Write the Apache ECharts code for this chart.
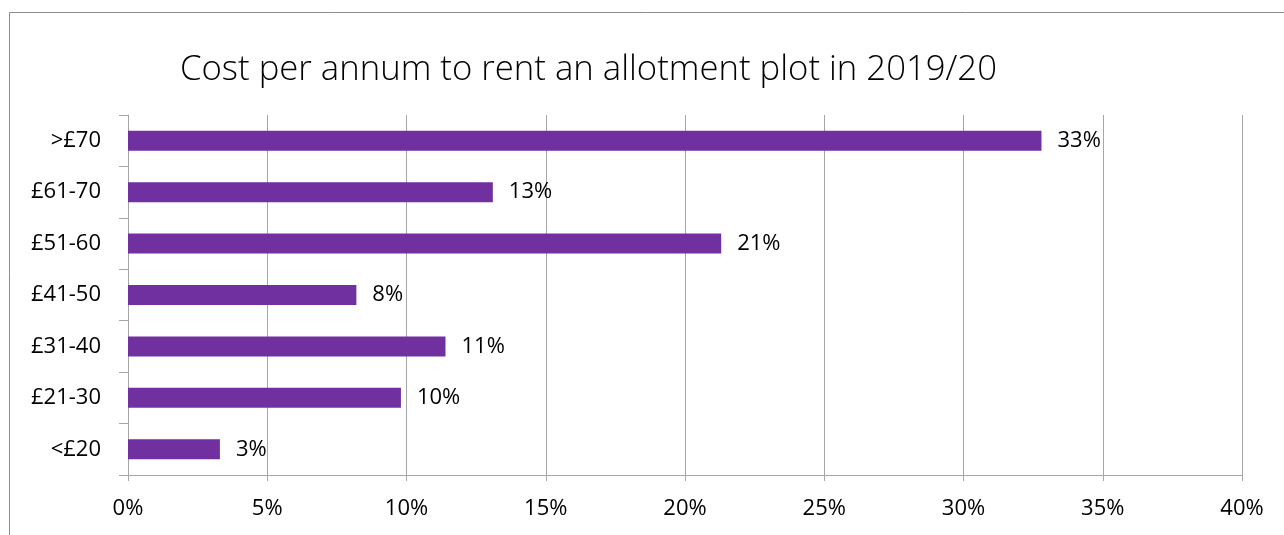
<!DOCTYPE html>
<html>
<head>
<meta charset="utf-8">
<script src="https://cdn.jsdelivr.net/npm/echarts@6/dist/echarts.min.js"></script>
<style>
html,body{margin:0;padding:0;background:#fff;}
#chart{width:1284px;height:535px;}
</style>
</head>
<body>
<div id="chart"></div>
<script>
const categories = ['>£70', '£61-70', '£51-60', '£41-50', '£31-40', '£21-30', '<£20'];
const shares = [32.8, 13.1, 21.3, 8.2, 11.4, 9.8, 3.3];
const xTicks = { min: 0, max: 40, step: 5 };
const titleText = 'Cost per annum to rent an allotment plot in 2019/20';

const FONT = 'Open Sans';
const chart = echarts.init(document.getElementById('chart'), null, { renderer: 'canvas' });
chart.setOption({
  animation: false,
  backgroundColor: '#ffffff',
  title: {
    text: titleText,
    left: 175,
    top: 48,
    textStyle: { fontFamily: FONT, fontSize: 34.7, fontWeight: 300, color: '#000' }
  },
  graphic: [{
    type: 'polyline',
    shape: { points: [[9.5, 535], [9.5, 12.5], [1284, 12.5]] },
    style: { stroke: '#8c8c8c', lineWidth: 1, fill: null },
    silent: true
  }],
  grid: { left: 128, right: 42, top: 115, bottom: 60, containLabel: false },
  xAxis: {
    type: 'value',
    min: xTicks.min,
    max: xTicks.max,
    interval: xTicks.step,
    axisLine: { show: true, lineStyle: { color: '#a6a6a6', width: 1 } },
    axisTick: { show: true, length: 6, lineStyle: { color: '#a6a6a6' } },
    splitLine: { show: true, lineStyle: { color: '#a6a6a6', width: 1 } },
    axisLabel: {
      formatter: v => v + '%',
      fontFamily: FONT, fontSize: 22, color: '#000', margin: 23
    }
  },
  yAxis: {
    type: 'category',
    data: categories,
    inverse: true,
    axisLine: { show: true, lineStyle: { color: '#a6a6a6', width: 1 } },
    axisTick: { show: true, length: 9, lineStyle: { color: '#a6a6a6' } },
    axisLabel: { fontFamily: FONT, fontSize: 22, color: '#000', margin: 27 }
  },
  series: [{
    type: 'bar',
    data: shares,
    barWidth: 20,
    itemStyle: { color: '#7030A0' },
    label: {
      show: true,
      position: 'right',
      distance: 16,
      formatter: p => Math.round(p.value) + '%',
      fontFamily: FONT, fontSize: 22, color: '#000'
    }
  }]
});
</script>
</body>
</html>
